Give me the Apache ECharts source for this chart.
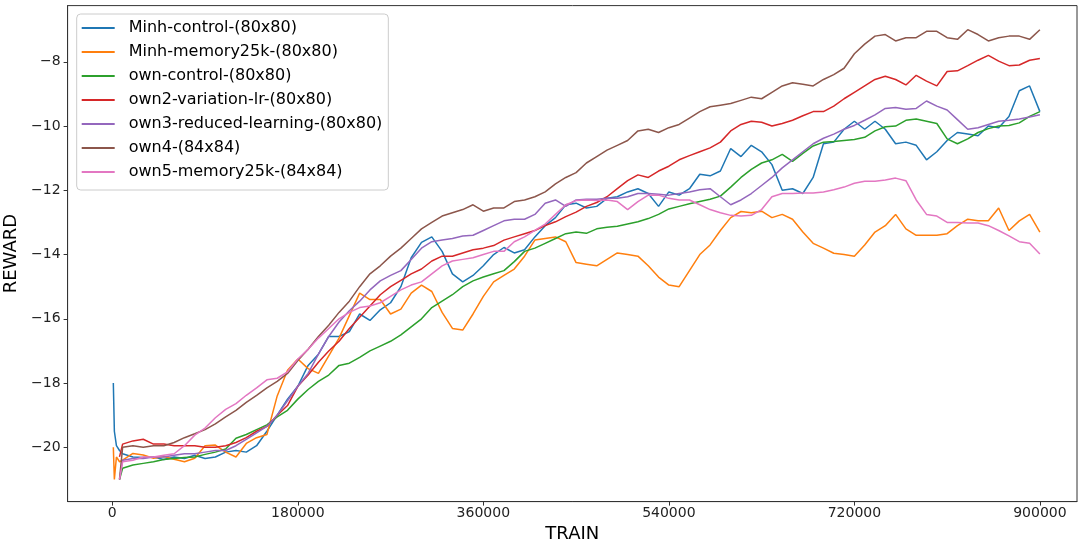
<!DOCTYPE html>
<html><head><meta charset="utf-8">
<script src="https://cdn.jsdelivr.net/npm/echarts@6/dist/echarts.min.js"></script>
<style>html,body{margin:0;padding:0;background:#fff}#c{width:1081px;height:545px}</style>
</head><body><div id="c"></div>
<script>
const TRAIN = [1000,2000,4000,7000,
10000,20000,30000,40000,50000,60000,70000,80000,90000,100000,
110000,120000,130000,140000,150000,160000,170000,180000,190000,200000,
210000,220000,230000,240000,250000,260000,270000,280000,290000,300000,
310000,320000,330000,340000,350000,360000,370000,380000,390000,400000,
410000,420000,430000,440000,450000,460000,470000,480000,490000,500000,
510000,520000,530000,540000,550000,560000,570000,580000,590000,600000,
610000,620000,630000,640000,650000,660000,670000,680000,690000,700000,
710000,720000,730000,740000,750000,760000,770000,780000,790000,800000,
810000,820000,830000,840000,850000,860000,870000,880000,890000,900000];

const X_TICKS = [0,180000,360000,540000,720000,900000];
const Y_TICKS = [-20,-18,-16,-14,-12,-10,-8];

const NAMES = ['Minh-control-(80x80)','Minh-memory25k-(80x80)','own-control-(80x80)',
'own2-variation-lr-(80x80)','own3-reduced-learning-(80x80)','own4-(84x84)','own5-memory25k-(84x84)'];

const MINH_CONTROL = [-18.0,-19.5,-19.95,-20.1,
-20.2,-20.3,-20.32,-20.3,-20.38,-20.3,-20.35,-20.25,-20.35,-20.3,
-20.15,-20.1,-20.15,-19.95,-19.5,-19.0,-18.5,-18.1,-17.45,-17.1,
-16.55,-16.55,-16.4,-15.85,-16.05,-15.72,-15.5,-15.0,-14.1,-13.62,
-13.45,-13.9,-14.6,-14.85,-14.65,-14.35,-14.0,-13.78,-13.95,-13.85,
-13.45,-13.1,-12.85,-12.45,-12.4,-12.55,-12.5,-12.25,-12.2,-12.05,
-11.95,-12.1,-12.5,-12.05,-12.15,-11.95,-11.5,-11.55,-11.4,-10.7,
-10.95,-10.6,-10.8,-11.2,-12.0,-11.95,-12.1,-11.6,-10.55,-10.5,
-10.1,-9.85,-10.1,-9.85,-10.1,-10.55,-10.5,-10.6,-11.05,-10.8,
-10.45,-10.2,-10.25,-10.3,-10.0,-10.05,-9.7,-8.9,-8.75,-9.55];

const MINH_MEMORY = [-20.0,-21.0,-20.3,-20.45,
-20.4,-20.19,-20.24,-20.34,-20.29,-20.37,-20.45,-20.34,-19.95,-19.93,
-20.15,-20.3,-19.88,-19.7,-19.6,-18.4,-17.6,-17.25,-17.55,-17.7,
-17.15,-16.6,-15.9,-15.2,-15.4,-15.4,-15.85,-15.7,-15.2,-14.95,
-15.15,-15.8,-16.3,-16.35,-15.85,-15.3,-14.85,-14.65,-14.45,-14.05,
-13.55,-13.5,-13.45,-13.6,-14.25,-14.3,-14.35,-14.15,-13.95,-14.0,
-14.05,-14.35,-14.7,-14.95,-15.0,-14.5,-14.0,-13.7,-13.25,-12.85,
-12.66,-12.7,-12.65,-12.85,-12.75,-12.9,-13.3,-13.65,-13.8,-13.96,
-14.0,-14.05,-13.7,-13.3,-13.1,-12.75,-13.2,-13.4,-13.4,-13.4,
-13.35,-13.1,-12.9,-12.95,-12.95,-12.55,-13.25,-12.95,-12.75,-13.3];

const OWN_CONTROL = [null,null,null,-21.0,
-20.65,-20.55,-20.5,-20.45,-20.38,-20.35,-20.32,-20.3,-20.22,-20.15,
-20.05,-19.72,-19.6,-19.45,-19.3,-19.05,-18.85,-18.5,-18.2,-17.95,
-17.75,-17.45,-17.38,-17.2,-17.0,-16.85,-16.7,-16.5,-16.25,-16.0,
-15.65,-15.45,-15.25,-15.0,-14.82,-14.7,-14.6,-14.5,-14.22,-13.9,
-13.8,-13.65,-13.5,-13.35,-13.3,-13.34,-13.2,-13.15,-13.12,-13.05,
-12.98,-12.88,-12.75,-12.58,-12.5,-12.42,-12.35,-12.28,-12.18,-11.9,
-11.6,-11.35,-11.15,-11.05,-10.88,-11.1,-10.85,-10.62,-10.5,-10.48,
-10.45,-10.42,-10.35,-10.15,-10.02,-10.0,-9.82,-9.78,-9.85,-9.92,
-10.4,-10.55,-10.4,-10.2,-10.08,-10.0,-9.98,-9.9,-9.7,-9.55];

const OWN2_LR = [null,null,null,-20.3,
-19.9,-19.8,-19.75,-19.9,-19.9,-19.95,-19.95,-19.95,-20.0,-20.0,
-19.95,-19.85,-19.7,-19.5,-19.35,-19.0,-18.7,-18.1,-17.75,-17.35,
-17.0,-16.7,-16.3,-15.95,-15.6,-15.25,-15.0,-14.8,-14.6,-14.45,
-14.2,-14.05,-14.05,-13.95,-13.85,-13.8,-13.72,-13.55,-13.45,-13.35,
-13.25,-13.1,-12.98,-12.82,-12.68,-12.5,-12.38,-12.2,-11.95,-11.7,
-11.52,-11.6,-11.4,-11.25,-11.05,-10.92,-10.8,-10.68,-10.5,-10.15,
-9.95,-9.85,-9.88,-10.0,-9.92,-9.82,-9.68,-9.55,-9.55,-9.38,
-9.15,-8.95,-8.75,-8.55,-8.45,-8.55,-8.72,-8.42,-8.6,-8.75,
-8.3,-8.28,-8.12,-7.95,-7.8,-7.98,-8.12,-8.1,-7.95,-7.9];

const OWN3_REDUCED = [null,null,null,-21.0,
-20.4,-20.35,-20.35,-20.3,-20.3,-20.25,-20.2,-20.2,-20.15,-20.1,
-20.1,-19.95,-19.75,-19.55,-19.35,-19.0,-18.55,-18.1,-17.7,-17.1,
-16.55,-16.1,-15.75,-15.45,-15.1,-14.82,-14.65,-14.5,-14.15,-13.8,
-13.6,-13.55,-13.5,-13.42,-13.4,-13.25,-13.1,-12.95,-12.9,-12.9,
-12.75,-12.4,-12.3,-12.5,-12.3,-12.28,-12.28,-12.25,-12.25,-12.2,
-12.1,-12.1,-12.12,-12.15,-12.1,-12.05,-11.98,-11.95,-12.2,-12.45,
-12.3,-12.1,-11.85,-11.6,-11.3,-11.05,-10.8,-10.55,-10.38,-10.25,
-10.1,-9.98,-9.82,-9.65,-9.45,-9.42,-9.48,-9.45,-9.22,-9.38,
-9.5,-9.8,-10.1,-10.05,-9.95,-9.85,-9.82,-9.78,-9.72,-9.65];

const OWN4 = [null,null,null,-21.0,
-20.0,-19.95,-20.0,-19.95,-19.95,-19.85,-19.7,-19.58,-19.45,-19.27,
-19.05,-18.85,-18.6,-18.38,-18.15,-17.95,-17.7,-17.3,-16.95,-16.55,
-16.2,-15.8,-15.45,-15.0,-14.6,-14.35,-14.05,-13.8,-13.5,-13.2,
-13.0,-12.8,-12.7,-12.6,-12.45,-12.65,-12.55,-12.55,-12.35,-12.3,
-12.2,-12.05,-11.8,-11.6,-11.45,-11.15,-10.95,-10.75,-10.6,-10.45,
-10.15,-10.1,-10.2,-10.05,-9.95,-9.75,-9.55,-9.4,-9.35,-9.3,
-9.2,-9.1,-9.15,-8.95,-8.75,-8.65,-8.7,-8.75,-8.55,-8.4,
-8.2,-7.75,-7.45,-7.2,-7.15,-7.35,-7.25,-7.25,-7.05,-7.05,
-7.25,-7.3,-7.0,-7.15,-7.35,-7.25,-7.2,-7.2,-7.3,-7.0];

const OWN5_MEMORY = [null,null,null,-21.0,
-20.45,-20.4,-20.3,-20.3,-20.25,-20.2,-19.95,-19.62,-19.4,-19.08,
-18.82,-18.64,-18.38,-18.15,-17.9,-17.85,-17.65,-17.25,-16.95,-16.6,
-16.3,-16.0,-15.8,-15.65,-15.6,-15.5,-15.3,-15.1,-14.95,-14.85,
-14.6,-14.35,-14.2,-14.15,-14.1,-14.0,-13.9,-13.9,-13.6,-13.45,
-13.25,-13.05,-12.75,-12.45,-12.32,-12.3,-12.32,-12.3,-12.35,-12.6,
-12.35,-12.15,-12.15,-12.25,-12.3,-12.3,-12.45,-12.6,-12.7,-12.78,
-12.8,-12.78,-12.6,-12.2,-12.1,-12.1,-12.08,-12.08,-12.05,-11.98,
-11.9,-11.78,-11.72,-11.72,-11.68,-11.62,-11.7,-12.3,-12.75,-12.8,
-13.0,-13.0,-13.02,-13.02,-13.1,-13.25,-13.42,-13.6,-13.65,-13.98];

const SERIES_VALUES = [MINH_CONTROL, MINH_MEMORY, OWN_CONTROL, OWN2_LR, OWN3_REDUCED, OWN4, OWN5_MEMORY];
const COLORS = ['#1f77b4','#ff7f0e','#2ca02c','#d62728','#9467bd','#8c564b','#e377c2'];

const FONT = 'DejaVu Sans';
const chart = echarts.init(document.getElementById('c'), null, {renderer: 'canvas'});

function pairs(vals) {
  const out = [];
  for (let i = 0; i < TRAIN.length; i++) if (vals[i] !== null) out.push([TRAIN[i], vals[i]]);
  return out;
}
const minus = v => String(v).replace('-', '\u2212');

chart.setOption({
  animation: false,
  backgroundColor: '#fff',
  color: COLORS,
  grid: {left: 67.6, right: 4, top: 5.6, bottom: 43.4, containLabel: false, outerBoundsMode: 'none',
         show: true, borderColor: '#333', borderWidth: 1, backgroundColor: 'transparent'},
  legend: {
    orient: 'vertical', left: 76.7, top: 14,
    icon: 'rect', itemWidth: 33, itemHeight: 2, itemGap: 8,
    padding: [6, 6, 10, 5],
    backgroundColor: 'rgba(255,255,255,0.85)', borderColor: '#cccccc', borderWidth: 1, borderRadius: 4,
    textStyle: {fontFamily: FONT, fontSize: 16, color: '#000', lineHeight: 16, padding: [0, 0, 0, 9]},
    data: NAMES
  },
  xAxis: {
    type: 'value', min: -43370, max: 936000,
    name: 'TRAIN', nameLocation: 'middle', nameGap: 21,
    nameTextStyle: {fontFamily: FONT, fontSize: 18, color: '#000'},
    axisLine: {show: true, onZero: false, lineStyle: {color: '#333', width: 1}},
    axisTick: {show: true, length: 4, customValues: X_TICKS, lineStyle: {color: '#333'}},
    axisLabel: {customValues: X_TICKS, margin: 5, fontFamily: FONT, fontSize: 14, color: '#222',
                formatter: v => String(v)},
    splitLine: {show: false}
  },
  yAxis: {
    type: 'value', min: -21.69, max: -6.25,
    name: 'REWARD', nameLocation: 'middle', nameGap: 34, nameRotate: 90,
    nameTextStyle: {fontFamily: FONT, fontSize: 18, color: '#000'},
    axisLine: {show: true, onZero: false, lineStyle: {color: '#333', width: 1}},
    axisTick: {show: true, length: 4, customValues: Y_TICKS, lineStyle: {color: '#333'}},
    axisLabel: {customValues: Y_TICKS, margin: 7, fontFamily: FONT, fontSize: 14, color: '#222', formatter: minus},
    splitLine: {show: false}
  },
  series: SERIES_VALUES.map((vals, i) => ({
    name: NAMES[i], type: 'line', data: pairs(vals),
    showSymbol: false, symbol: 'none', smooth: false,
    lineStyle: {width: 1.5, color: COLORS[i]}, itemStyle: {color: COLORS[i]}
  }))
});
</script>
</body></html>
